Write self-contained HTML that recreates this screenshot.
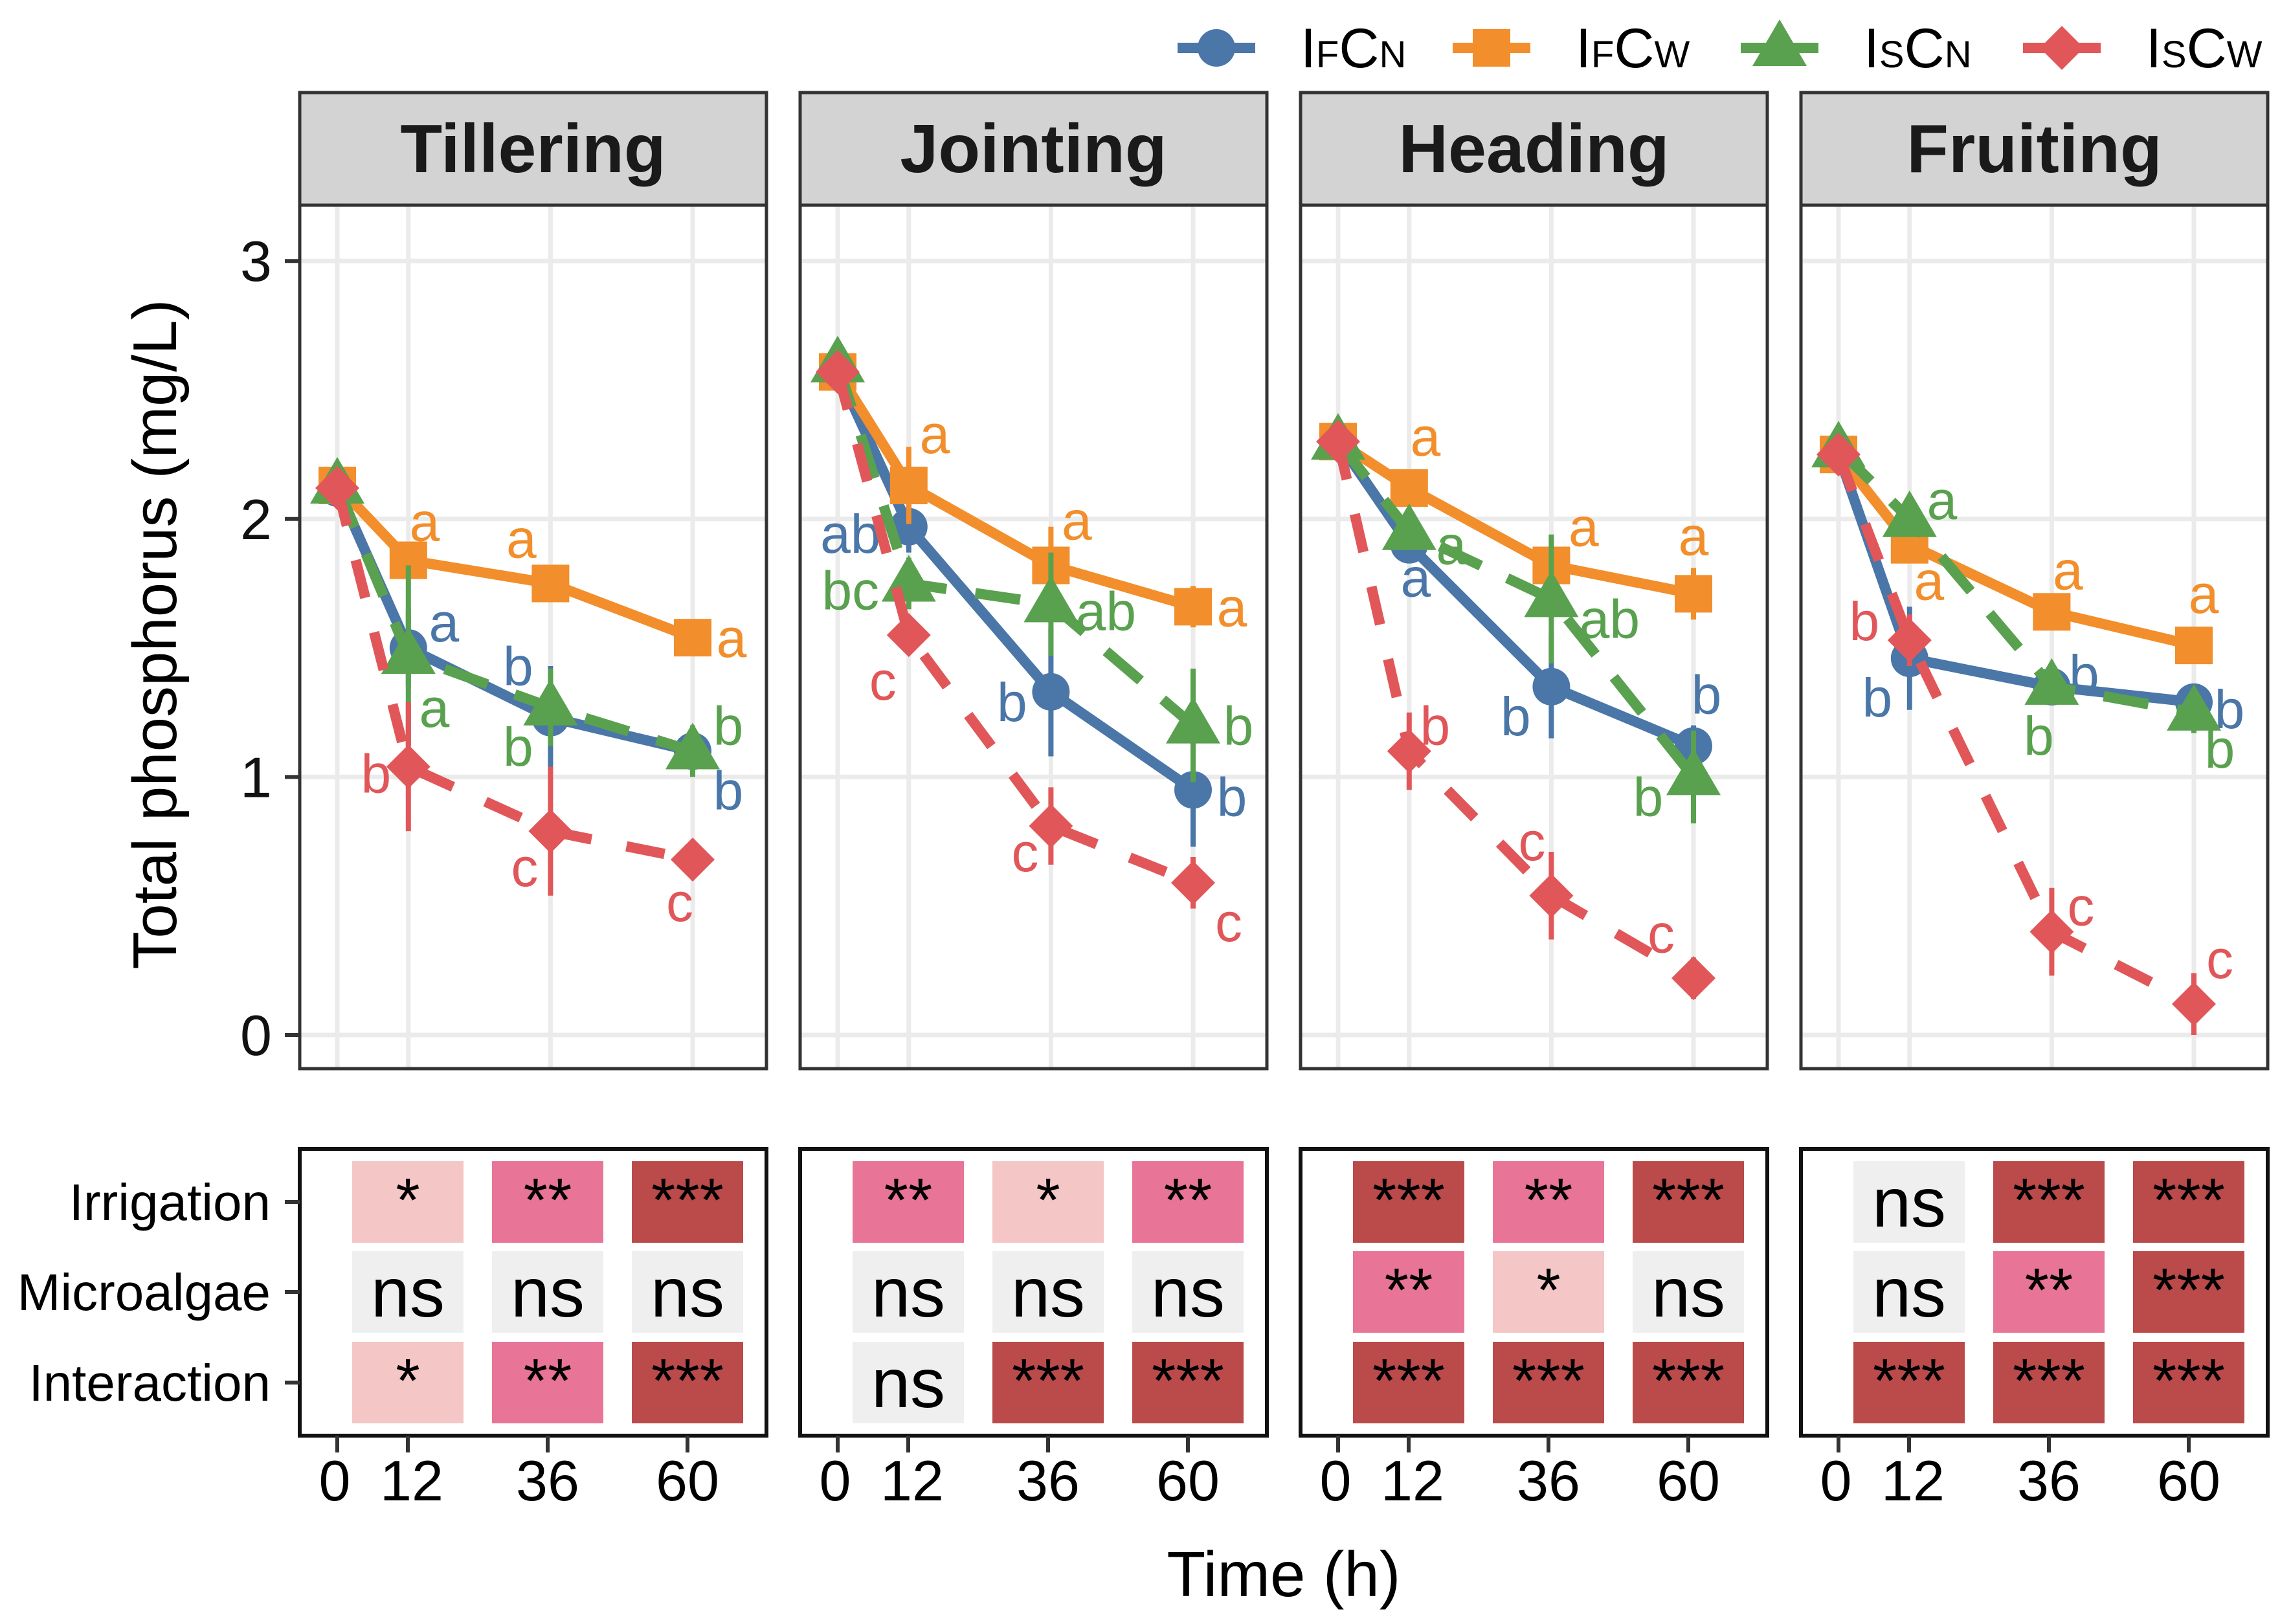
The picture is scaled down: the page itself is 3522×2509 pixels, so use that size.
<!DOCTYPE html>
<html><head><meta charset="utf-8"><style>
html,body{margin:0;padding:0;background:#fff}
svg{display:block;font-family:"Liberation Sans",sans-serif}
.n{font-family:"Liberation Sans Narrow","Liberation Sans",sans-serif}
</style></head><body>
<svg id="c" width="3522" height="2509" viewBox="0 0 3522 2509" xmlns="http://www.w3.org/2000/svg"></svg>
<script>
const panels=["Tillering","Jointing","Heading","Fruiting"];
const times=[0,12,36,60];
const series=["IFCN","IFCW","ISCN","ISCW"];
const blueVals=[[2.12,1.5,1.23,1.1],[2.57,1.97,1.33,0.95],[2.3,1.9,1.35,1.12],[2.25,1.46,1.35,1.29]];
const orangeVals=[[2.13,1.84,1.75,1.54],[2.57,2.13,1.82,1.66],[2.3,2.12,1.82,1.71],[2.25,1.9,1.64,1.51]];
const greenVals=[[2.13,1.47,1.27,1.1],[2.6,1.75,1.67,1.2],[2.3,1.95,1.69,1.0],[2.27,2.0,1.35,1.25]];
const redVals=[[2.12,1.04,0.79,0.68],[2.57,1.55,0.81,0.59],[2.3,1.1,0.54,0.22],[2.25,1.53,0.4,0.12]];
const blueErr=[[0,0.15,0.2,0.05],[0,0.1,0.25,0.22],[0,0.05,0.2,0.08],[0,0.2,0.05,0.04]];
const orangeErr=[[0,0.05,0.05,0.03],[0,0.15,0.15,0.08],[0,0.05,0.1,0.1],[0,0.05,0.05,0.05]];
const greenErr=[[0,0.35,0.15,0.1],[0,0.1,0.2,0.22],[0,0.05,0.25,0.18],[0,0.05,0.05,0.08]];
const redErr=[[0,0.25,0.25,0.02],[0,0.05,0.15,0.1],[0,0.15,0.17,0.08],[0,0.1,0.17,0.12]];
const blueLet=[["","a","b","b"],["","ab","b","b"],["","a","b","b"],["","b","b","b"]];
const orangeLet=[["","a","a","a"],["","a","a","a"],["","a","a","a"],["","a","a","a"]];
const greenLet=[["","a","b","b"],["","bc","ab","b"],["","a","ab","b"],["","a","b","b"]];
const redLet=[["","b","c","c"],["","c","c","c"],["","b","c","c"],["","b","c","c"]];
const yTicks=[0,1,2,3];
const heatRows=["Irrigation","Microalgae","Interaction"];
const heatTimes=[12,36,60];
const heatSig=[
 [["*","**","***"],["ns","ns","ns"],["*","**","***"]],
 [["**","*","**"],["ns","ns","ns"],["ns","***","***"]],
 [["***","**","***"],["**","*","ns"],["***","***","***"]],
 [["ns","***","***"],["ns","**","***"],["***","***","***"]]];
// label offsets (layout only)
const labOff={
 0:[[[0,0],[55,-40],[-50,-80],[55,60]],[[0,0],[25,-60],[-45,-70],[60,0]],[[0,0],[40,80],[-50,60],[55,-40]],[[0,0],[-50,10],[-40,55],[-20,65]]],
 1:[[[0,0],[-90,10],[-60,15],[60,10]],[[0,0],[40,-80],[40,-70],[60,0]],[[0,0],[-90,10],[85,10],[70,0]],[[0,0],[-40,70],[-40,40],[55,60]]],
 2:[[[0,0],[10,50],[-55,45],[20,-80]],[[0,0],[25,-80],[50,-60],[0,-90]],[[0,0],[65,20],[90,30],[-70,30]],[[0,0],[40,-40],[-30,-85],[-50,-70]]],
 3:[[[0,0],[-50,60],[50,-20],[55,10]],[[0,0],[30,55],[25,-65],[15,-80]],[[0,0],[50,-30],[-20,75],[40,55]],[[0,0],[-70,-30],[45,-40],[40,-70]]]};
const colors=["#4A76A8","#F28E2B","#59A14F","#E15759"];
const vals=[blueVals,orangeVals,greenVals,redVals];
const errs=[blueErr,orangeErr,greenErr,redErr];
const lets=[blueLet,orangeLet,greenLet,redLet];
const dashes=["","","70 45","60 55"];
const NS="http://www.w3.org/2000/svg";
const svg=document.getElementById("c");
function mk(t,a,p){const e=document.createElementNS(NS,t);for(const k in a)e.setAttribute(k,a[k]);(p||svg).appendChild(e);return e;}
const PL=[463,1236,2009,2782],PW=721,PT=317,PB=1651,ST=143;
const HT=1775,HB=2218;
function X(i,t){return PL[i]+58+t*9.15;}
function Y(v){return 1599-v*398.6;}
function HX(i,t){return PL[i]+58+(t<12?t*9.08:109+(t-12)*9.0);}
const rowY=[1857,1996,2136];
function marker(g,s,x,y){
 let e;
 if(s===0)e=mk("circle",{cx:x,cy:y,r:29,fill:colors[0]},g);
 else if(s===1)e=mk("rect",{x:x-29,y:y-29,width:58,height:58,fill:colors[1]},g);
 else if(s===2)e=mk("polygon",{points:`${x},${y-44} ${x+42},${y+28} ${x-42},${y+28}`,fill:colors[2]},g);
 else e=mk("polygon",{points:`${x},${y-34} ${x+34},${y} ${x},${y+34} ${x-34},${y}`,fill:colors[3]},g);
 return e;
}
panels.forEach((p,i)=>{
 const g=mk("g",{});
 
 
 const st=mk("rect",{x:PL[i],y:ST,width:PW,height:PT-ST,fill:"#d3d3d3",stroke:"#333",'stroke-width':5},g);
 
 
 const tt=mk("text",{x:PL[i]+PW/2,y:266,'text-anchor':'middle','font-size':106,'font-weight':'bold',fill:'#1a1a1a'},g);
 tt.textContent=p;
 
 
 mk("rect",{x:PL[i],y:PT,width:PW,height:PB-PT,fill:"#fff"},g);
 yTicks.forEach(v=>{const l=mk("line",{x1:PL[i],x2:PL[i]+PW,y1:Y(v),y2:Y(v),stroke:"#ebebeb",'stroke-width':7},g);
  });
 times.forEach(t=>{const l=mk("line",{x1:X(i,t),x2:X(i,t),y1:PT,y2:PB,stroke:"#ebebeb",'stroke-width':7},g);
  });
 for(let s=0;s<4;s++){
  const sg=mk("g",{},g);
  
  
  const v=vals[s][i],er=errs[s][i];
  times.forEach((t,k)=>{if(er[k]>0){const l=mk("line",{x1:X(i,t),x2:X(i,t),y1:Y(v[k]+er[k]),y2:Y(v[k]-er[k]),stroke:colors[s],'stroke-width':8},sg);
   }});
  const pts=times.map((t,k)=>X(i,t)+","+Y(v[k])).join(" ");
  const ln=mk("polyline",{points:pts,fill:"none",stroke:colors[s],'stroke-width':16,'stroke-dasharray':dashes[s]},sg);
  
  
  times.forEach((t,k)=>{const m=marker(sg,s,X(i,t),Y(v[k]));
   });
  times.forEach((t,k)=>{const L=lets[s][i][k];if(!L)return;const o=labOff[i][s][k];
   const tx=mk("text",{x:X(i,t)+o[0],y:Y(v[k])+o[1]+30,'text-anchor':'middle','font-size':84,fill:colors[s]},sg);
   tx.textContent=L;});
 }
 mk("rect",{x:PL[i],y:PT,width:PW,height:PB-PT,fill:"none",stroke:"#333",'stroke-width':5},g);
 const hg=mk("g",{});
 
 
 mk("rect",{x:PL[i],y:HT,width:PW,height:HB-HT,fill:"#fff",stroke:"#111",'stroke-width':6},hg);
 const col={"ns":"#efefef","*":"#f4c6c6","**":"#e87497","***":"#bb4a4a"};
 heatRows.forEach((r,ri)=>heatTimes.forEach((t,ci)=>{
  const sig=heatSig[i][ri][ci];const cx=HX(i,t),cy=rowY[ri];
  const c=mk("rect",{x:cx-86,y:cy-63,width:172,height:126,fill:col[sig]},hg);
  
  const tx=mk("text",{x:cx,y:sig==="ns"?cy+38:cy+30,'text-anchor':'middle','font-size':sig==="ns"?108:96,fill:'#000',class:'n'},hg);
  tx.textContent=sig;
 }));
 times.forEach(t=>{const l=mk("line",{x1:HX(i,t),x2:HX(i,t),y1:HB,y2:HB+26,stroke:"#333",'stroke-width':6});
  
  const tx=mk("text",{x:HX(i,t)+(t===0?-4:t===12?6:0),y:2318,'text-anchor':'middle','font-size':88,fill:'#000',class:'n'});
  tx.textContent=t;});
});
yTicks.forEach(v=>{const l=mk("line",{x1:440,x2:463,y1:Y(v),y2:Y(v),stroke:"#333",'stroke-width':6});
 
 const tx=mk("text",{x:420,y:Y(v)+31,'text-anchor':'end','font-size':88,fill:'#111'});
 tx.textContent=v;});
heatRows.forEach((r,ri)=>{const l=mk("line",{x1:440,x2:463,y1:rowY[ri],y2:rowY[ri],stroke:"#333",'stroke-width':6});
 
 const tx=mk("text",{x:418,y:rowY[ri]+28,'text-anchor':'end','font-size':80,fill:'#000',class:'n'});
 tx.textContent=r;});
</script>
<script>
const svg2=document.getElementById("c");
function mk2(t,a){const e=document.createElementNS("http://www.w3.org/2000/svg",t);for(const k in a)e.setAttribute(k,a[k]);svg2.appendChild(e);return e;}
const yl=mk2("text",{x:0,y:0,transform:"translate(272,980) rotate(-90)",'text-anchor':'middle','font-size':96,fill:'#000'});
yl.textContent="Total phosphorus (mg/L)";


const xl=mk2("text",{x:1983,y:2466,'text-anchor':'middle','font-size':98,fill:'#000'});
xl.textContent="Time (h)";


const legX=[1879,2304,2749,3185];
const legBig1=["I","I","I","I"],legSm1=["F","F","S","S"],legSm2=["N","W","N","W"];
const legCols=["#4A76A8","#F28E2B","#59A14F","#E15759"];
legX.forEach((x,s)=>{
 const l=mk2("line",{x1:x-60,x2:x+60,y1:74,y2:74,stroke:legCols[s],'stroke-width':16});
 
 let m;
 if(s===0)m=mk2("circle",{cx:x,cy:74,r:29,fill:legCols[0]});
 else if(s===1)m=mk2("rect",{x:x-29,y:45,width:58,height:58,fill:legCols[1]});
 else if(s===2)m=mk2("polygon",{points:`${x},${30} ${x+42},${102} ${x-42},${102}`,fill:legCols[2]});
 else m=mk2("polygon",{points:`${x},${40} ${x+34},${74} ${x},${108} ${x-34},${74}`,fill:legCols[3]});
 
 const t=mk2("text",{x:x+130,y:104,'font-size':86,fill:'#000',class:'n'});
 t.innerHTML=`${legBig1[s]}<tspan font-size="58">${legSm1[s]}</tspan>C<tspan font-size="58">${legSm2[s]}</tspan>`;
 
});
</script>
</body></html>
